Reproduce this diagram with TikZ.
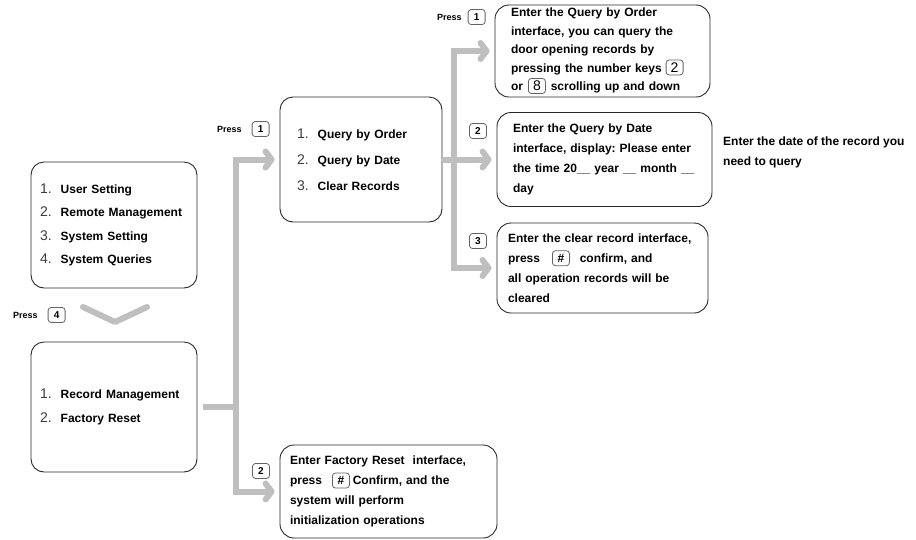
\documentclass[tikz,border=0pt]{standalone}
\usepackage{fontspec}
\setmainfont{Liberation Sans}
\usetikzlibrary{arrows.meta}
\definecolor{flowgray}{RGB}{191,191,191}
\definecolor{boxline}{RGB}{40,40,40}
\definecolor{keyline}{RGB}{100,100,100}
\definecolor{numgray}{RGB}{60,60,60}
\frenchspacing

\tikzset{keycapbox/.style={draw=keyline, line width=0.8pt, rounded corners=3pt, text width=, align=center, anchor=center,
  inner xsep=0pt, inner ysep=2pt, minimum width=17pt, minimum height=15pt, fill=white,
  font=\fontsize{10}{10}\selectfont\bfseries, text=black}}
\newcommand{\keycap}[1]{\tikz[baseline=(kc.base)]\node[keycapbox](kc){#1};}
\newcommand{\lightdigit}[1]{\mdseries\fontsize{14}{14}\selectfont #1}
\newcommand{\itemno}[1]{{\fontsize{14}{14}\selectfont\mdseries\color{numgray}#1}\hspace{9pt}}

\begin{document}
\begin{tikzpicture}[x=1pt,y=-1pt,
  menubox/.style={draw=boxline, line width=0.9pt, rounded corners=13pt, align=left,
    font=\bfseries\fontsize{12}{23.5}\selectfont},
  infobox/.style={draw=boxline, line width=0.9pt, rounded corners=14pt, align=left,
    font=\bfseries\fontsize{12}{20}\selectfont},
  presslabel/.style={font=\bfseries\fontsize{9}{9}\selectfont, anchor=west, inner sep=0pt},
  flow/.style={draw=flowgray, line width=6pt},
  flowarrow/.style={flow, -{Straight Barb[length=6pt,width=16pt,round]}, shorten >=5pt}]

\useasboundingbox (0,0) rectangle (916,539);

% menus
\node[menubox, minimum width=166pt, minimum height=126pt, inner xsep=9pt, text width=148pt] (mainmenu) at (114,225)
  {\itemno{1.}User Setting\\ \itemno{2.}Remote Management\\ \itemno{3.}System Setting\\ \itemno{4.}System Queries};
\node[menubox, minimum width=166pt, minimum height=130pt, inner xsep=9pt, text width=148pt] (recmenu) at (114,407)
  {\itemno{1.}Record Management\\ \itemno{2.}Factory Reset};
\node[menubox, minimum width=162pt, minimum height=125pt, inner xsep=17pt, text width=128pt,
  font=\bfseries\fontsize{12}{26}\selectfont] (querymenu) at (361,159.5)
  {\itemno{1.}Query by Order\\ \itemno{2.}Query by Date\\ \itemno{3.}Clear Records};

% result boxes
\node[infobox, minimum width=215pt, minimum height=92pt, inner xsep=16pt, text width=183pt, inner ysep=2pt,
  font=\bfseries\fontsize{12}{18.5}\selectfont] (order) at (602.5,51)
  {Enter the Query by Order\\ interface, you can query the\\ door opening records by\\
   pressing the number keys \keycap{\lightdigit{2}}\\ or\hspace{5pt}\keycap{\lightdigit{8}}\hspace{5pt}scrolling up and down};
\node[infobox, minimum width=215pt, minimum height=94pt, inner xsep=16pt, text width=183pt] (date) at (604.5,159.5)
  {Enter the Query by Date\\ interface, display: Please enter\\ the time 20\_\_ year \_\_ month \_\_\\ day};
\node[infobox, minimum width=211pt, minimum height=90pt, inner xsep=11pt, text width=189pt] (clear) at (602.5,268)
  {Enter the clear record interface,\\ press\hspace{12pt}\keycap{\fontsize{12}{12}\selectfont\#}\hspace{10pt}confirm, and\\
   all operation records will be\\ cleared};
\node[infobox, minimum width=217pt, minimum height=93pt, inner xsep=10pt, text width=197pt] (reset) at (388.5,491.5)
  {Enter Factory Reset\ \ interface,\\ press\hspace{10pt}\keycap{\fontsize{12}{12}\selectfont\#}\hspace{3pt}Confirm, and the\\
   system will perform\\ initialization operations};
\node[anchor=west, align=left, inner sep=0pt, font=\bfseries\fontsize{12}{20}\selectfont] (datenote) at (723,152)
  {Enter the date of the record you\\ need to query};

% keys
\node[presslabel] (press4) at (13,315) {Press\hspace{10pt}\keycap{4}};
\node[presslabel] (press1a) at (217,129) {Press\hspace{10pt}\keycap{1}};
\node[presslabel] (press1b) at (437,17) {Press\hspace{6pt}\keycap{1}};
\node[keycapbox] (key2a) at (478,131) {2};
\node[keycapbox] (key3) at (478,241) {3};
\node[keycapbox] (key2b) at (261,471) {2};

% connectors
\coordinate (chev) at (115,322);
\draw[flow, line cap=round, line join=round] (chev) ++(-32,-15) -- (chev) -- ++(32,-15);

\coordinate (lsplit) at (236,407);
\draw[flow, shorten <=6pt] (recmenu.east) -- (lsplit);
\draw[flowarrow] (lsplit) |- (querymenu.west);
\draw[flowarrow] (lsplit) |- (reset.west);

\coordinate (rsplit) at (454,159.5);
\draw[flowarrow] (querymenu.east) -- (date.west);
\draw[flowarrow] (rsplit) |- (order.west);
\draw[flowarrow] (rsplit) |- (clear.west);
\end{tikzpicture}
\end{document}
